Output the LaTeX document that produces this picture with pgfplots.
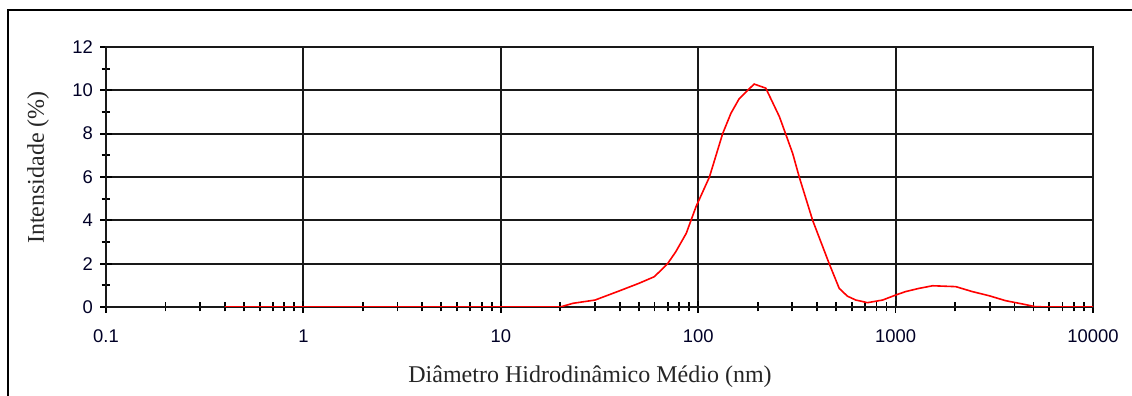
\documentclass[border=0pt]{standalone}
\usepackage{pgfplots}
\pgfplotsset{compat=1.18}
\usepackage{fontspec}
\setmainfont{Liberation Serif}
\newfontfamily\ticksans{Liberation Sans}
\begin{document}
\begin{tikzpicture}
\useasboundingbox (0,0) rectangle (566pt,198pt);
\draw[line width=1.2pt,black] (4pt,0) -- (4pt,193pt) -- (566pt,193pt);
\begin{axis}[
  at={(53pt,44.5pt)}, anchor=south west,
  scale only axis, width=493.5pt, height=130pt,
  xmode=log, xmin=0.1, xmax=10000, ymin=0, ymax=12,
  log basis x=10,
  xtick={0.1,1,10,100,1000,10000},
  xticklabels={0.1,1,10,100,1000,10000},
  minor xtick={0.2,0.3,0.4,0.5,0.6,0.7,0.8,0.9,2,3,4,5,6,7,8,9,20,30,40,50,60,70,80,90,200,300,400,500,600,700,800,900,2000,3000,4000,5000,6000,7000,8000,9000},
  ytick={0,2,4,6,8,10,12},
  minor ytick={1,3,5,7,9,11},
  tick pos=left, tick align=center,
  major tick length=6pt, minor tick length=4.5pt,
  every tick/.style={black, line width=0.9pt},
  xmajorgrids, ymajorgrids,
  major grid style={black!90, line width=1pt},
  axis line style={black!90, line width=1pt},
  ticklabel style={font=\ticksans\fontsize{9.2pt}{10pt}\selectfont, text=black!85!blue},
  xticklabel style={yshift=-5pt},
  /pgf/number format/assume math mode=true,
]
\addplot[red, line width=0.8pt] coordinates {
(0.4,0) (20,0) (23.2,0.17) (30,0.32) (39,0.71) (50,1.09) (60,1.4) (70,2.0) (77,2.55) (87,3.4) (97.5,4.63) (114,6.0) (133,8.0) (146.5,8.94) (161,9.6) (192,10.29) (220,10.1) (258,8.78) (301,7.09) (325,6.0) (380,4.0) (461,2.0) (518,0.86) (570,0.5) (629,0.32) (721,0.2) (859,0.32) (1000,0.55) (1123,0.71) (1300,0.85) (1539,0.98) (2018,0.94) (2449,0.71) (2976,0.52) (3614,0.29) (4390,0.14) (5128,0.01) (10000,0)
};
\end{axis}
\node[rotate=90, font=\fontsize{12pt}{14pt}\selectfont, text=black!85] at (19pt,114.25pt) {Intensidade (\%)};
\node[font=\fontsize{12pt}{14pt}\selectfont, text=black!85] at (295pt,9.5pt) {Diâmetro Hidrodinâmico Médio (nm)};
\end{tikzpicture}
\end{document}
